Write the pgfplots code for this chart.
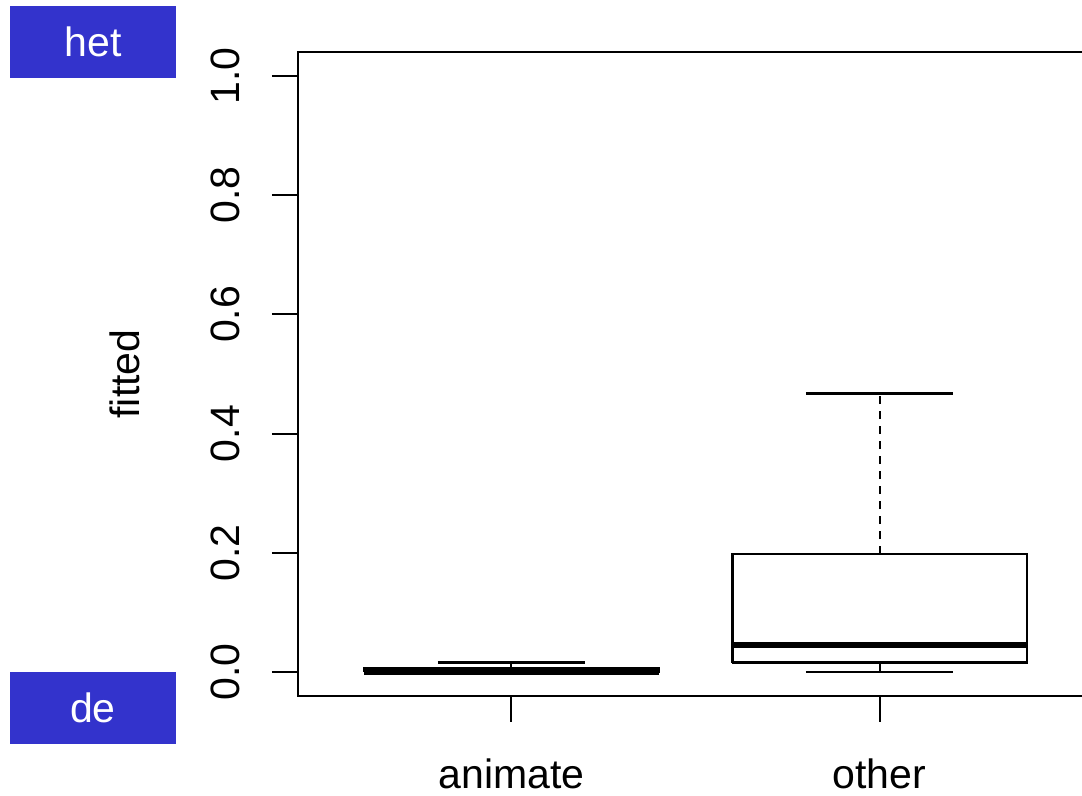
\documentclass[border=0pt]{standalone}
\usepackage{fontspec}
\setmainfont{Liberation Sans}
\usepackage{pgfplots}
\pgfplotsset{compat=1.18}
\definecolor{tagblue}{HTML}{3333CC}
\newcommand{\lbl}{\fontsize{20.5}{24}\selectfont}
\pgfplotsset{
  boxline/.style={black, line width=1.2pt, mark=none},
  stemline/.style={black, line width=1pt, mark=none, dash pattern=on 4pt off 3.5pt},
  medline/.style={black, line width=3pt, mark=none},
}
\begin{document}
\begin{tikzpicture}
\begin{axis}[
  at={(149pt,50pt)}, anchor=south west,
  scale only axis, width=397.5pt, height=322pt,
  xmin=0.42, xmax=2.58, ymin=-0.04, ymax=1.04,
  axis line style={line width=1pt},
  tick pos=left, tick align=outside,
  major tick length=13pt,
  tick style={line width=1pt, black},
  xtick={1,2}, xticklabels={animate,other},
  ytick={0,0.2,0.4,0.6,0.8,1},
  yticklabels={0.0,0.2,0.4,0.6,0.8,1.0},
  xticklabel style={font=\lbl, anchor=base, inner sep=0pt},
  yticklabel style={font=\lbl, rotate=90, anchor=south, inner sep=0pt},
  xticklabel shift=33pt,
  yticklabel shift=16pt,
  ylabel={fitted},
  every axis y label/.style={at={(axis description cs:-0.2176,0.5)},
    rotate=90, anchor=center, font=\lbl},
]
% animate: whiskers 0 / 0.016, quartiles 0 / 0.006, median 0.0005
\addplot[stemline] coordinates {(1,0.006)(1,0.016)};
\addplot[boxline] coordinates {(0.8,0.016)(1.2,0.016)};
\addplot[boxline] coordinates {(0.8,0)(1.2,0)};
\addplot[boxline] coordinates {(0.6,0)(1.4,0)(1.4,0.006)(0.6,0.006)(0.6,0)};
\addplot[medline] coordinates {(0.6,0.0005)(1.4,0.0005)};
% other: whiskers 0 / 0.467, quartiles 0.016 / 0.198, median 0.046
\addplot[stemline] coordinates {(2,0.198)(2,0.467)};
\addplot[stemline] coordinates {(2,0.016)(2,0)};
\addplot[boxline] coordinates {(1.8,0.467)(2.2,0.467)};
\addplot[boxline] coordinates {(1.8,0)(2.2,0)};
\addplot[boxline] coordinates {(1.6,0.016)(2.4,0.016)(2.4,0.198)(1.6,0.198)(1.6,0.016)};
\addplot[medline] coordinates {(1.6,0.046)(2.4,0.046)};
\end{axis}
\begin{scope}[x=0.5pt,y=0.5pt]
\fill[tagblue] (10,718) rectangle (176,790);
\node[white, font=\lbl] at (93,754) {het};
\fill[tagblue] (10,52) rectangle (176,124);
\node[white, font=\lbl] at (93,88) {de};
\end{scope}
\pgfresetboundingbox
\useasboundingbox (0,0) rectangle (541pt,398pt);
\end{tikzpicture}
\end{document}
